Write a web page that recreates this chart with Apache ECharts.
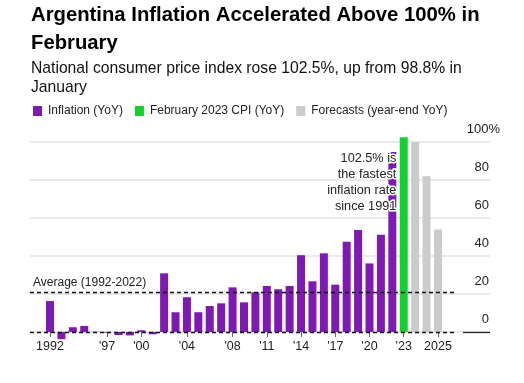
<!DOCTYPE html>
<html>
<head>
<meta charset="utf-8">
<script src="https://cdn.jsdelivr.net/npm/echarts@6/dist/echarts.min.js"></script>
<style>
html,body{margin:0;padding:0;background:#fff;}
#c{width:524px;height:383px;}
</style>
</head>
<body>
<div id="c"></div>
<script>
// ---- data ----
const years = ['1992','1993','1994','1995','1996','1997','1998','1999','2000','2001','2002','2003','2004','2005','2006','2007','2008','2009','2010','2011','2012','2013','2014','2015','2016','2017','2018','2019','2020','2021','2022'];
const inflation = [16.3,-3.8,2.5,3.2,0.1,-0.4,-1.6,-1.8,0.9,-1.2,30.9,10.4,18.3,10.4,13.7,15.1,23.5,15.6,20.9,24.2,22.5,24.2,40.4,26.7,41.4,24.9,47.5,53.7,36.1,51.2,94.8];
const febLabel = 'Feb 2023';
const febValue = 102.5;
const forecastYears = ['2023','2024','2025'];
const forecastValues = [100, 82, 54];
const average = 21;
const xTickIndex = [0,5,8,12,16,19,22,25,28,31,34];
const xTickLabels = ['1992',"'97","'00","'04","'08","'11","'14","'17","'20","'23",'2025'];
const yTicks = [0,20,40,60,80,100];
const seriesNames = ['Inflation (YoY)','February 2023 CPI (YoY)','Forecasts (year-end YoY)'];
const noteText = '102.5% is\nthe fastest\ninflation rate\nsince 1991';
const avgLabel = 'Average (1992-2022)';

// ---- layout ----
const FONT = '"Liberation Sans", Arial, sans-serif';
const PURPLE = '#7e1ab2', GREEN = '#12d12e', GREY = '#cbcbcb';
const xMin = -1.753, xMax = 38.56;
const dashEnd = 35.67, solidStart = 36.2;

const febIndex = years.length;
const purpleData = inflation.map((v,i)=>[i,v]);
const greenData = [[febIndex, febValue]];
const greyData = forecastValues.map((v,i)=>[febIndex+1+i, v]);
const tickMap = {};
xTickIndex.forEach((i,k)=>tickMap[i]=xTickLabels[k]);

const chart = echarts.init(document.getElementById('c'));
chart.setOption({
  animation:false,
  textStyle:{fontFamily:FONT},
  title:{
    text:'Argentina Inflation Accelerated Above 100% in\nFebruary',
    subtext:'National consumer price index rose 102.5%, up from 98.8% in\nJanuary',
    left:31, top:1, padding:0, itemGap:2,
    textStyle:{fontFamily:FONT,fontSize:20.3,fontWeight:'bold',color:'#000',lineHeight:28},
    subtextStyle:{fontFamily:FONT,fontSize:15.7,color:'#111',lineHeight:19}
  },
  legend:{
    data:seriesNames, left:33, top:105, padding:0,
    icon:'rect', itemWidth:9, itemHeight:10, itemGap:12,
    textStyle:{fontFamily:FONT,fontSize:12,color:'#222',padding:[0,0,0,1]},
    selectedMode:false
  },
  grid:{left:30,right:34,top:142,bottom:51},
  xAxis:{
    type:'value', min:xMin, max:xMax,
    splitLine:{show:false},
    axisLine:{show:false},
    axisTick:{show:true, customValues:xTickIndex, length:5, lineStyle:{color:'#666',width:1}},
    axisLabel:{customValues:xTickIndex, formatter:v=>tickMap[v]||'', fontSize:12.5, color:'#222', margin:8, fontFamily:FONT}
  },
  yAxis:{
    type:'value', position:'right', min:0, max:100, interval:20,
    axisLine:{show:false}, axisTick:{show:false},
    splitLine:{lineStyle:{color:'#e2e2e2',width:1.5}},
    axisLabel:{
      inside:true, margin:-10, align:'right', verticalAlign:'bottom',
      formatter:v=> v===100 ? '{m|'+v+'%}' : '{n|'+v+'}',
      rich:{
        n:{fontSize:13,color:'#222',padding:[0,11,6,0],fontFamily:FONT},
        m:{fontSize:13,color:'#222',padding:[0,0,6,0],fontFamily:FONT}
      }
    }
  },
  series:[
    {
      name:seriesNames[0], type:'bar', data:purpleData, barWidth:8, barGap:'-100%', clip:false,
      itemStyle:{color:PURPLE},
      markLine:{
        silent:true, symbol:'none', animation:false,
        lineStyle:{color:'#111',type:[4,3],width:1.3},
        data:[
          [{coord:[xMin,average],label:{show:true,position:'insideStartTop',formatter:avgLabel,fontSize:12,color:'#222',fontFamily:FONT,distance:[3,3]}},{coord:[dashEnd,average]}],
          [{coord:[xMin,0],label:{show:false}},{coord:[dashEnd,0]}],
          [{coord:[solidStart,0],label:{show:false},lineStyle:{type:'solid',color:'#222',width:1.3}},{coord:[xMax,0]}]
        ]
      }
    },
    {name:seriesNames[1], type:'bar', data:greenData, barWidth:8, barGap:'-100%', clip:false, itemStyle:{color:GREEN}},
    {name:seriesNames[2], type:'bar', data:greyData, barWidth:8, barGap:'-100%', clip:false, itemStyle:{color:GREY}}
  ]
});
const p = chart.convertToPixel({gridIndex:0},[30.35, 95.5]);
chart.setOption({graphic:[{
  type:'text', x:p[0], y:p[1], silent:true, z:100,
  style:{text:noteText, align:'right', verticalAlign:'top', font:'12.7px '+FONT, fill:'#222', lineHeight:16, stroke:'#fff', lineWidth:3}
}]});
</script>
</body>
</html>
